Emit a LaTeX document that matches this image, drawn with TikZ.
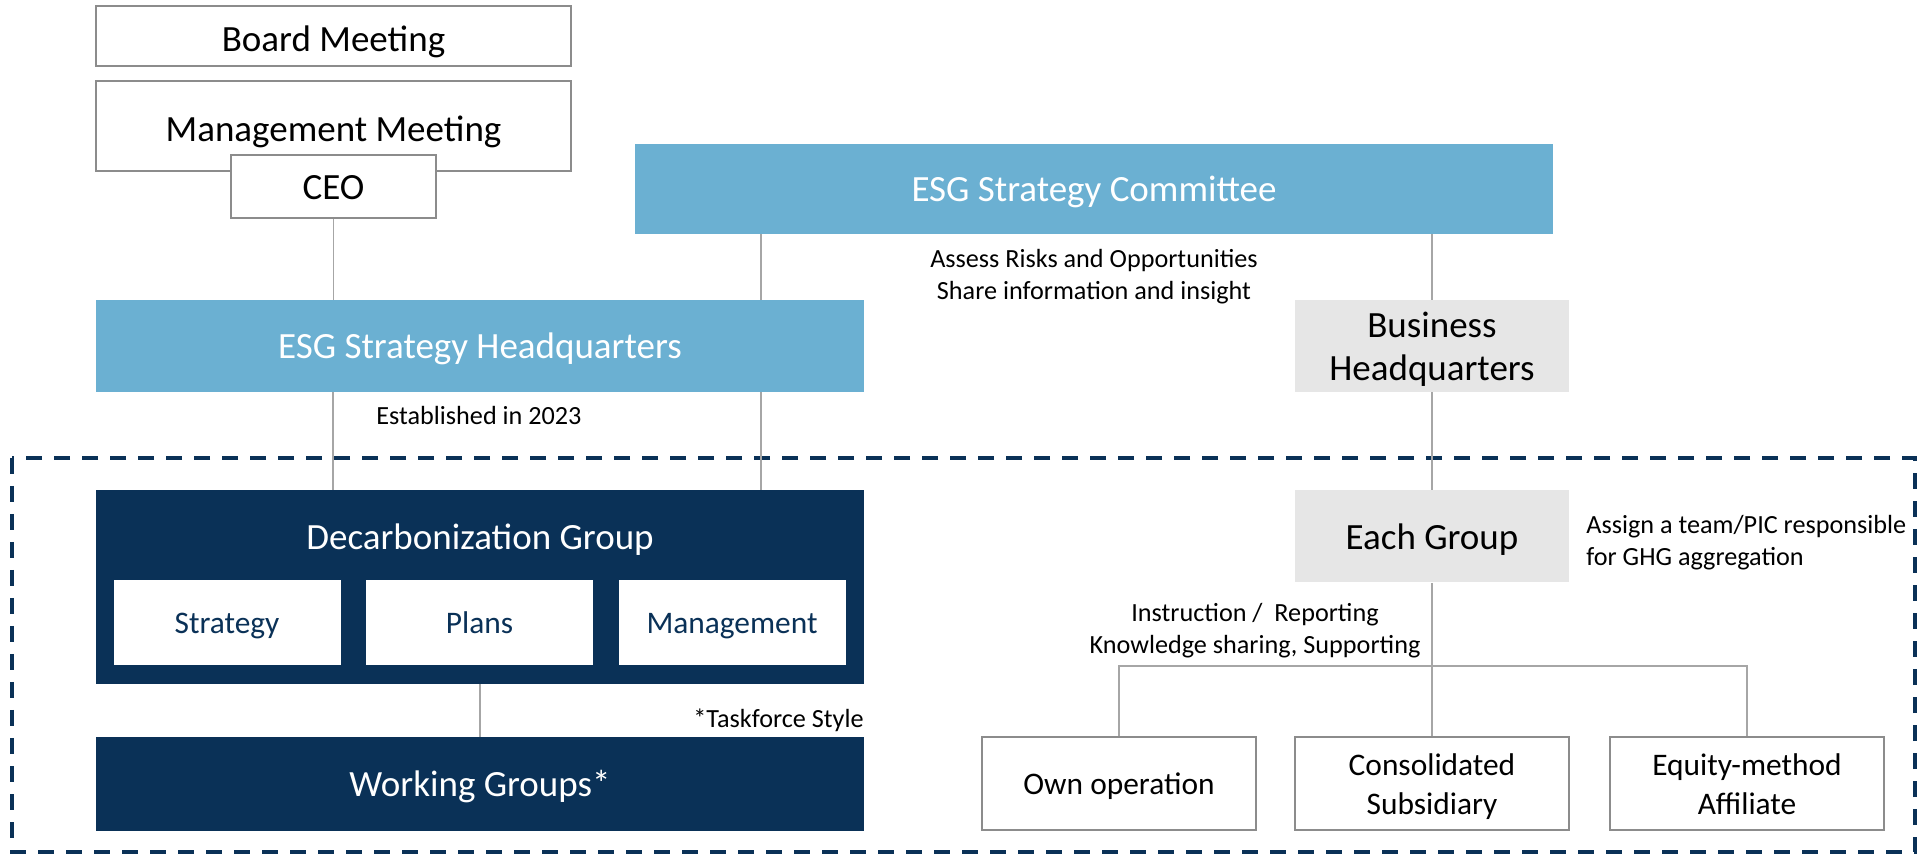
\documentclass[tikz,border=0pt]{standalone}
\usepackage{fontspec}
\setmainfont{Carlito}
\usetikzlibrary{positioning}

\definecolor{esgBlue}{RGB}{107,176,210}
\definecolor{esgNavy}{RGB}{10,49,87}
\definecolor{boxGray}{RGB}{230,230,230}
\definecolor{edgeGray}{RGB}{140,140,140}
\definecolor{linkGray}{RGB}{166,166,166}

\begin{document}
\begin{tikzpicture}[
        x=0.5pt, y=-0.5pt,
        bigtext/.style={font=\fontsize{18.5}{21.5}\selectfont, text height=17.6pt, text depth=4.6pt},
        smalltext/.style={font=\fontsize{15.7}{19.5}\selectfont, text height=14.9pt, text depth=3.9pt},
        whitebox/.style={rectangle, draw=edgeGray, line width=0.9pt, fill=white, inner sep=0pt, bigtext, align=center},
        bluebox/.style={rectangle, fill=esgBlue, inner sep=0pt, text=white, bigtext},
        navybox/.style={rectangle, fill=esgNavy, inner sep=0pt, text=white, bigtext},
        graybox/.style={rectangle, fill=boxGray, inner sep=0pt, bigtext, align=center},
        taskbox/.style={rectangle, fill=white, inner sep=0pt, text=esgNavy, minimum width=113.5pt, minimum height=42.5pt, smalltext},
        unitbox/.style={whitebox, minimum width=137pt, minimum height=46.5pt, smalltext},
        note/.style={inner sep=0pt, font=\fontsize{13.1}{16}\selectfont, align=center},
        link/.style={draw=linkGray, line width=0.8pt},
    ]
    \useasboundingbox (0,0) rectangle (1927,854);

    % Frame
    \draw[esgNavy, line width=2pt, dash pattern=on 8pt off 6pt] (12,458) rectangle (1915,852);

    % Objects
    \node[whitebox, minimum width=237.5pt, minimum height=30pt, text height=20.1pt] (boardMeeting) at (333.5,36) {Board Meeting};
    \node[whitebox, minimum width=237.5pt, minimum height=45pt, text height=20.1pt] (mgmtMeeting) at (333.5,126) {Management Meeting};
    \node[whitebox, minimum width=102.5pt, minimum height=31.5pt] (ceo) at (333.5,186.5) {CEO};
    \node[bluebox, minimum width=459pt, minimum height=45pt] (committee) at (1094,189) {ESG Strategy Committee};
    \node[bluebox, minimum width=384pt, minimum height=46pt] (esgHq) at (480,346) {ESG Strategy Headquarters};
    \node[graybox, minimum width=137pt, minimum height=46pt, text height=39pt] (bizHq) at (1432,346) {Business\\Headquarters};

    \node[navybox, minimum width=384pt, minimum height=97pt] (decarbGroup) at (480,587) {};
    \node[text=white, inner sep=0pt, bigtext] (decarbTitle) at (480,537) {Decarbonization Group};
    \node[taskbox] (strategy) at (227,622.5) {Strategy};
    \node[taskbox] (plans) at (479.5,622.5) {Plans};
    \node[taskbox] (management) at (732,622.5) {Management};
    \node[navybox, minimum width=384pt, minimum height=47pt] (workingGroups) at (480,784) {Working Groups*};

    \node[graybox, minimum width=137pt, minimum height=46pt] (eachGroup) at (1432,536.5) {Each Group};
    \node[unitbox] (ownOp) at (1119,783.5) {Own operation};
    \node[unitbox, text height=34.4pt] (consolidated) at (1432,783.5) {Consolidated\\Subsidiary};
    \node[unitbox, text height=34.4pt] (equity) at (1747,783.5) {Equity-method\\Affiliate};

    % Notes
    \node[note] (assessNote) at (1094,277) {Assess Risks and Opportunities\\Share information and insight};
    \node[note] (establishedNote) at (479,416) {Established in 2023};
    \node[note, anchor=east] (taskforceNote) at (864,720) {*Taskforce Style};
    \node[note, align=left, anchor=west] (assignNote) at (1586,543) {Assign a team/PIC responsible\\for GHG aggregation};
    \node[note] (instructionNote) at (1255,631) {Instruction /\ \ Reporting\\Knowledge sharing, Supporting};

    % Lines
    \coordinate (leftLink) at (333,0);
    \coordinate (rightLink) at (761,0);
    \draw[link] (ceo.south) -- (ceo.south |- esgHq.north);
    \draw[link] (committee.south -| rightLink) -- (esgHq.north -| rightLink);
    \draw[link] (esgHq.south -| leftLink) -- (decarbGroup.north -| leftLink);
    \draw[link] (esgHq.south -| rightLink) -- (decarbGroup.north -| rightLink);
    \draw[link] (decarbGroup.south) -- (workingGroups.north);
    \draw[link] (bizHq.north |- committee.south) -- (bizHq.north);
    \draw[link] (bizHq.south) -- (eachGroup.north);
    \draw[link] (eachGroup.south) -- (consolidated.north);
    \draw[link] (ownOp.north) -- ++(0,-70) -| (equity.north);

\end{tikzpicture}
\end{document}
